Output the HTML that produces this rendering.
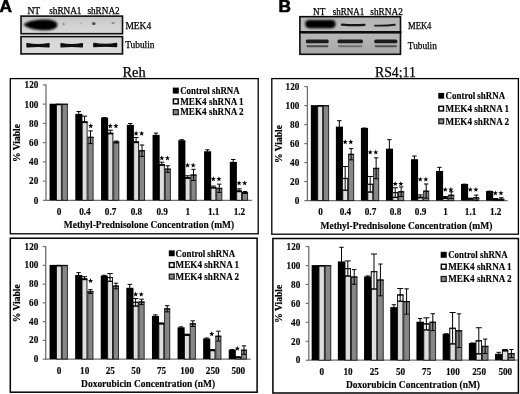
<!DOCTYPE html>
<html><head><meta charset="utf-8"><title>Figure</title>
<style>
html,body{margin:0;padding:0;background:#fff;width:520px;height:394px;overflow:hidden;font-family:"Liberation Serif",serif;}
</style></head><body>
<svg width="520" height="394" viewBox="0 0 520 394" style="position:absolute;left:0;top:0;display:block">
<defs>
<filter id="b1" x="-20%" y="-50%" width="140%" height="200%"><feGaussianBlur stdDeviation="0.9"/></filter>
<filter id="b2" x="-20%" y="-80%" width="140%" height="260%"><feGaussianBlur stdDeviation="0.6"/></filter>
<filter id="b3" x="-50%" y="-50%" width="200%" height="200%"><feGaussianBlur stdDeviation="1.1"/></filter>
<filter id="bu" filterUnits="userSpaceOnUse" x="0" y="0" width="520" height="70"><feGaussianBlur stdDeviation="0.7"/></filter>
<filter id="soft" x="-2%" y="-2%" width="104%" height="104%"><feGaussianBlur stdDeviation="0.35"/></filter>
<linearGradient id="gA1" x1="0" y1="0" x2="0" y2="1"><stop offset="0" stop-color="#c4c4c4"/><stop offset="0.5" stop-color="#d2d2d2"/><stop offset="1" stop-color="#d8d8d8"/></linearGradient>
<linearGradient id="gA2" x1="0" y1="0" x2="0" y2="1"><stop offset="0" stop-color="#d4d4d4"/><stop offset="1" stop-color="#dcdcdc"/></linearGradient>
<linearGradient id="gB1" x1="0" y1="0" x2="0" y2="1"><stop offset="0" stop-color="#b4b4b4"/><stop offset="1" stop-color="#bcbcbc"/></linearGradient>
<linearGradient id="gB2" x1="0" y1="0" x2="0" y2="1"><stop offset="0" stop-color="#b8b8b8"/><stop offset="1" stop-color="#a8a8a8"/></linearGradient>
</defs>
<rect width="520" height="394" fill="#fff"/>
<g filter="url(#soft)">
<text x="-0.5" y="11.9" font-family="Liberation Sans, sans-serif" font-size="17.3" font-weight="bold" fill="#000" stroke="#000" stroke-width="0.6">A</text>
<text x="278.4" y="11.9" font-family="Liberation Sans, sans-serif" font-size="17.3" font-weight="bold" fill="#000" stroke="#000" stroke-width="0.6">B</text>
<rect x="21.0" y="16.1" width="101.50" height="17.60" fill="url(#gA1)" stroke="#0a0a0a" stroke-width="1.6"/>
<rect x="21.0" y="36.6" width="101.50" height="17.30" fill="url(#gA2)" stroke="#0a0a0a" stroke-width="1.6"/>
<path d="M23.6 24.8 C26.6 21.5 36 19.6 45.5 19.6 C53 19.6 57.4 21.9 57.4 25.0 C57.4 28.3 52.6 30.3 44.5 30.3 C35 30.3 27.2 28.1 23.6 24.8 Z" fill="#050505" filter="url(#b1)"/>
<ellipse cx="63.6" cy="24.2" rx="1.3" ry="1.1" fill="#969696" filter="url(#bu)"/>
<ellipse cx="81" cy="23.6" rx="1.3" ry="1.0" fill="#b2b2b2" filter="url(#bu)"/>
<ellipse cx="93.8" cy="23.7" rx="1.8" ry="1.4" fill="#484848" filter="url(#bu)"/>
<ellipse cx="113.1" cy="23.0" rx="1.7" ry="1.1" fill="#8a8a8a" filter="url(#bu)"/>
<path d="M27.0 43.6 Q38.0 45.5 49.0 43.6 L49.0 46.800000000000004 Q38.0 46.0 27.0 46.800000000000004 Z" fill="#0c0c0c" stroke="#0c0c0c" stroke-width="1.3" stroke-linejoin="round" filter="url(#b2)"/>
<path d="M61.0 43.6 Q71.7 45.5 82.4 43.6 L82.4 46.800000000000004 Q71.7 46.0 61.0 46.800000000000004 Z" fill="#0c0c0c" stroke="#0c0c0c" stroke-width="1.3" stroke-linejoin="round" filter="url(#b2)"/>
<path d="M93.8 43.4 Q105.19999999999999 45.3 116.6 43.4 L116.6 46.6 Q105.19999999999999 45.8 93.8 46.6 Z" fill="#0c0c0c" stroke="#0c0c0c" stroke-width="1.3" stroke-linejoin="round" filter="url(#b2)"/>
<text x="27.40" y="14.30" font-family="Liberation Serif, serif" font-size="9.6" textLength="12.90" lengthAdjust="spacingAndGlyphs" stroke="#000" stroke-width="0.25" fill="#000" >NT</text>
<text x="49.20" y="14.30" font-family="Liberation Serif, serif" font-size="9.6" textLength="32.30" lengthAdjust="spacingAndGlyphs" stroke="#000" stroke-width="0.25" fill="#000" >shRNA1</text>
<text x="87.40" y="14.30" font-family="Liberation Serif, serif" font-size="9.6" textLength="32.30" lengthAdjust="spacingAndGlyphs" stroke="#000" stroke-width="0.25" fill="#000" >shRNA2</text>
<text x="125.40" y="28.90" font-family="Liberation Serif, serif" font-size="9.8" textLength="25.80" lengthAdjust="spacingAndGlyphs" stroke="#000" stroke-width="0.25" fill="#000" >MEK4</text>
<text x="125.20" y="48.00" font-family="Liberation Serif, serif" font-size="9.8" textLength="29.20" lengthAdjust="spacingAndGlyphs" stroke="#000" stroke-width="0.25" fill="#000" >Tubulin</text>
<rect x="299.9" y="16.7" width="100.60" height="15.20" fill="url(#gB1)" stroke="#0a0a0a" stroke-width="1.6"/>
<rect x="299.9" y="32.6" width="100.60" height="21.70" fill="url(#gB2)" stroke="#0a0a0a" stroke-width="1.6"/>
<line x1="299.1" y1="32.1" x2="401.3" y2="32.1" stroke="#0a0a0a" stroke-width="2.3"/>
<rect x="305.2" y="20.0" width="30.4" height="8.2" rx="4.1" fill="#020202" filter="url(#b1)"/>
<path d="M342 24.6 Q353 25.6 364.4 24.9" stroke="#161616" stroke-width="2.3" fill="none" stroke-linecap="round" filter="url(#bu)"/>
<path d="M375 25.6 Q385 25.9 394.8 24.8" stroke="#1c1c1c" stroke-width="1.9" fill="none" stroke-linecap="round" filter="url(#bu)"/>
<rect x="305.8" y="39.55" width="23.0" height="3.7" rx="1.6" fill="#1e1e1e" filter="url(#bu)"/>
<rect x="306.3" y="45.199999999999996" width="22.0" height="2.0" rx="1.0" fill="#4a4a4a" filter="url(#bu)"/>
<rect x="337.5" y="39.55" width="25.5" height="3.7" rx="1.6" fill="#1e1e1e" filter="url(#bu)"/>
<rect x="338.0" y="45.199999999999996" width="24.5" height="2.0" rx="1.0" fill="#707070" filter="url(#bu)"/>
<rect x="374.2" y="39.55" width="23.19999999999999" height="3.7" rx="1.6" fill="#1e1e1e" filter="url(#bu)"/>
<rect x="374.7" y="45.199999999999996" width="22.19999999999999" height="2.0" rx="1.0" fill="#505050" filter="url(#bu)"/>
<text x="313.00" y="14.60" font-family="Liberation Serif, serif" font-size="9.6" textLength="12.30" lengthAdjust="spacingAndGlyphs" stroke="#000" stroke-width="0.25" fill="#000" >NT</text>
<text x="332.80" y="14.60" font-family="Liberation Serif, serif" font-size="9.6" textLength="31.40" lengthAdjust="spacingAndGlyphs" stroke="#000" stroke-width="0.25" fill="#000" >shRNA1</text>
<text x="370.30" y="14.60" font-family="Liberation Serif, serif" font-size="9.6" textLength="32.50" lengthAdjust="spacingAndGlyphs" stroke="#000" stroke-width="0.25" fill="#000" >shRNA2</text>
<text x="408.00" y="28.80" font-family="Liberation Serif, serif" font-size="9.8" textLength="23.40" lengthAdjust="spacingAndGlyphs" stroke="#000" stroke-width="0.25" fill="#000" >MEK4</text>
<text x="407.80" y="48.70" font-family="Liberation Serif, serif" font-size="9.8" textLength="29.00" lengthAdjust="spacingAndGlyphs" stroke="#000" stroke-width="0.25" fill="#000" >Tubulin</text>
<text x="122.40" y="76.50" font-family="Liberation Serif, serif" font-size="14.4" textLength="23.20" lengthAdjust="spacingAndGlyphs" stroke="#000" stroke-width="0.25" fill="#000" >Reh</text>
<text x="375.00" y="77.00" font-family="Liberation Serif, serif" font-size="14.4" textLength="40.80" lengthAdjust="spacingAndGlyphs" stroke="#000" stroke-width="0.25" fill="#000" >RS4;11</text>
<rect x="10.3" y="78.6" width="247.90" height="155.20" fill="none" stroke="#000" stroke-width="1.3"/>
<rect x="10.3" y="238.2" width="246.80" height="154.00" fill="none" stroke="#000" stroke-width="1.5"/>
<rect x="271.8" y="78.6" width="246.60" height="155.60" fill="none" stroke="#000" stroke-width="1.3"/>
<rect x="272.9" y="238.5" width="245.50" height="154.50" fill="none" stroke="#000" stroke-width="1.5"/>
<line x1="46.0" y1="84.62" x2="46.0" y2="200.80" stroke="#707070" stroke-width="1.3"/>
<line x1="45.5" y1="200.3" x2="252.0" y2="200.3" stroke="#707070" stroke-width="1.3"/>
<line x1="42.9" y1="200.30" x2="46.0" y2="200.30" stroke="#707070" stroke-width="1.15"/>
<text x="38.30" y="203.70" font-family="Liberation Serif, serif" font-size="9.6" font-weight="bold" text-anchor="end" textLength="4.60" lengthAdjust="spacingAndGlyphs" stroke="#000" stroke-width="0.14" fill="#000" >0</text>
<line x1="42.9" y1="181.07" x2="46.0" y2="181.07" stroke="#707070" stroke-width="1.15"/>
<text x="38.30" y="184.47" font-family="Liberation Serif, serif" font-size="9.6" font-weight="bold" text-anchor="end" textLength="9.20" lengthAdjust="spacingAndGlyphs" stroke="#000" stroke-width="0.14" fill="#000" >20</text>
<line x1="42.9" y1="161.84" x2="46.0" y2="161.84" stroke="#707070" stroke-width="1.15"/>
<text x="38.30" y="165.24" font-family="Liberation Serif, serif" font-size="9.6" font-weight="bold" text-anchor="end" textLength="9.20" lengthAdjust="spacingAndGlyphs" stroke="#000" stroke-width="0.14" fill="#000" >40</text>
<line x1="42.9" y1="142.61" x2="46.0" y2="142.61" stroke="#707070" stroke-width="1.15"/>
<text x="38.30" y="146.01" font-family="Liberation Serif, serif" font-size="9.6" font-weight="bold" text-anchor="end" textLength="9.20" lengthAdjust="spacingAndGlyphs" stroke="#000" stroke-width="0.14" fill="#000" >60</text>
<line x1="42.9" y1="123.38" x2="46.0" y2="123.38" stroke="#707070" stroke-width="1.15"/>
<text x="38.30" y="126.78" font-family="Liberation Serif, serif" font-size="9.6" font-weight="bold" text-anchor="end" textLength="9.20" lengthAdjust="spacingAndGlyphs" stroke="#000" stroke-width="0.14" fill="#000" >80</text>
<line x1="42.9" y1="104.15" x2="46.0" y2="104.15" stroke="#707070" stroke-width="1.15"/>
<text x="38.30" y="107.55" font-family="Liberation Serif, serif" font-size="9.6" font-weight="bold" text-anchor="end" textLength="13.70" lengthAdjust="spacingAndGlyphs" stroke="#000" stroke-width="0.14" fill="#000" >100</text>
<line x1="42.9" y1="84.92" x2="46.0" y2="84.92" stroke="#707070" stroke-width="1.15"/>
<text x="38.30" y="88.32" font-family="Liberation Serif, serif" font-size="9.6" font-weight="bold" text-anchor="end" textLength="13.70" lengthAdjust="spacingAndGlyphs" stroke="#000" stroke-width="0.14" fill="#000" >120</text>
<text transform="translate(19.9,143.01) rotate(-90)" text-anchor="middle" font-family="Liberation Serif, serif" font-size="9.4" font-weight="bold" stroke="#000" stroke-width="0.2" textLength="38" lengthAdjust="spacingAndGlyphs">% Viable</text>
<rect x="49.55" y="103.70" width="7.10" height="96.60" fill="#000"/>
<rect x="56.45" y="104.15" width="4.90" height="96.15" fill="#dedede" stroke="#111" stroke-width="0.9"/>
<line x1="56.05" y1="104.50" x2="61.80" y2="104.50" stroke="#000" stroke-width="1.6"/>
<rect x="62.20" y="104.15" width="5.15" height="96.15" fill="#878787" stroke="#1c1c1c" stroke-width="0.9"/>
<line x1="61.80" y1="104.35" x2="67.75" y2="104.35" stroke="#111" stroke-width="1.2"/>
<rect x="75.30" y="113.89" width="7.10" height="86.41" fill="#000"/>
<rect x="82.20" y="121.94" width="4.90" height="78.36" fill="#dedede" stroke="#111" stroke-width="0.9"/>
<line x1="81.80" y1="122.29" x2="87.55" y2="122.29" stroke="#000" stroke-width="1.6"/>
<rect x="87.95" y="137.23" width="5.15" height="63.07" fill="#878787" stroke="#1c1c1c" stroke-width="0.9"/>
<line x1="87.55" y1="137.43" x2="93.50" y2="137.43" stroke="#111" stroke-width="1.2"/>
<line x1="78.72" y1="111.55" x2="78.72" y2="114.34" stroke="#000" stroke-width="1.0"/>
<line x1="76.52" y1="111.55" x2="80.92" y2="111.55" stroke="#000" stroke-width="1.0"/>
<line x1="84.58" y1="116.17" x2="84.58" y2="121.94" stroke="#000" stroke-width="1.0"/>
<line x1="82.00" y1="116.17" x2="87.15" y2="116.17" stroke="#000" stroke-width="1.0"/>
<line x1="82.00" y1="121.94" x2="87.15" y2="121.94" stroke="#000" stroke-width="1.0"/>
<line x1="90.53" y1="130.88" x2="90.53" y2="143.57" stroke="#000" stroke-width="1.0"/>
<line x1="88.33" y1="130.88" x2="92.73" y2="130.88" stroke="#000" stroke-width="1.0"/>
<line x1="88.33" y1="143.57" x2="92.73" y2="143.57" stroke="#000" stroke-width="1.0"/>
<rect x="101.05" y="117.64" width="7.10" height="82.66" fill="#000"/>
<rect x="107.95" y="133.28" width="4.90" height="67.02" fill="#dedede" stroke="#111" stroke-width="0.9"/>
<line x1="107.55" y1="133.63" x2="113.30" y2="133.63" stroke="#000" stroke-width="1.6"/>
<rect x="113.70" y="142.03" width="5.15" height="58.27" fill="#878787" stroke="#1c1c1c" stroke-width="0.9"/>
<line x1="113.30" y1="142.23" x2="119.25" y2="142.23" stroke="#111" stroke-width="1.2"/>
<line x1="104.47" y1="117.51" x2="104.47" y2="118.09" stroke="#000" stroke-width="1.0"/>
<line x1="102.27" y1="117.51" x2="106.67" y2="117.51" stroke="#000" stroke-width="1.0"/>
<line x1="110.33" y1="130.21" x2="110.33" y2="133.28" stroke="#000" stroke-width="1.0"/>
<line x1="107.75" y1="130.21" x2="112.90" y2="130.21" stroke="#000" stroke-width="1.0"/>
<line x1="107.75" y1="133.28" x2="112.90" y2="133.28" stroke="#000" stroke-width="1.0"/>
<line x1="116.28" y1="141.07" x2="116.28" y2="142.99" stroke="#000" stroke-width="1.0"/>
<line x1="114.08" y1="141.07" x2="118.48" y2="141.07" stroke="#000" stroke-width="1.0"/>
<line x1="114.08" y1="142.99" x2="118.48" y2="142.99" stroke="#000" stroke-width="1.0"/>
<rect x="126.80" y="124.85" width="7.10" height="75.45" fill="#000"/>
<rect x="133.70" y="142.03" width="4.90" height="58.27" fill="#dedede" stroke="#111" stroke-width="0.9"/>
<line x1="133.30" y1="142.38" x2="139.05" y2="142.38" stroke="#000" stroke-width="1.6"/>
<rect x="139.45" y="150.69" width="5.15" height="49.61" fill="#878787" stroke="#1c1c1c" stroke-width="0.9"/>
<line x1="139.05" y1="150.89" x2="145.00" y2="150.89" stroke="#111" stroke-width="1.2"/>
<line x1="130.22" y1="123.48" x2="130.22" y2="125.30" stroke="#000" stroke-width="1.0"/>
<line x1="128.03" y1="123.48" x2="132.42" y2="123.48" stroke="#000" stroke-width="1.0"/>
<line x1="136.07" y1="137.51" x2="136.07" y2="142.03" stroke="#000" stroke-width="1.0"/>
<line x1="133.50" y1="137.51" x2="138.65" y2="137.51" stroke="#000" stroke-width="1.0"/>
<line x1="133.50" y1="142.03" x2="138.65" y2="142.03" stroke="#000" stroke-width="1.0"/>
<line x1="142.03" y1="145.01" x2="142.03" y2="156.36" stroke="#000" stroke-width="1.0"/>
<line x1="139.83" y1="145.01" x2="144.22" y2="145.01" stroke="#000" stroke-width="1.0"/>
<line x1="139.83" y1="156.36" x2="144.22" y2="156.36" stroke="#000" stroke-width="1.0"/>
<rect x="152.55" y="134.85" width="7.10" height="65.45" fill="#000"/>
<rect x="159.45" y="164.72" width="4.90" height="35.58" fill="#dedede" stroke="#111" stroke-width="0.9"/>
<line x1="159.05" y1="165.07" x2="164.80" y2="165.07" stroke="#000" stroke-width="1.6"/>
<rect x="165.20" y="169.05" width="5.15" height="31.25" fill="#878787" stroke="#1c1c1c" stroke-width="0.9"/>
<line x1="164.80" y1="169.25" x2="170.75" y2="169.25" stroke="#111" stroke-width="1.2"/>
<line x1="155.97" y1="133.09" x2="155.97" y2="135.30" stroke="#000" stroke-width="1.0"/>
<line x1="153.78" y1="133.09" x2="158.17" y2="133.09" stroke="#000" stroke-width="1.0"/>
<line x1="161.82" y1="162.22" x2="161.82" y2="164.72" stroke="#000" stroke-width="1.0"/>
<line x1="159.25" y1="162.22" x2="164.40" y2="162.22" stroke="#000" stroke-width="1.0"/>
<line x1="159.25" y1="164.72" x2="164.40" y2="164.72" stroke="#000" stroke-width="1.0"/>
<line x1="167.78" y1="165.78" x2="167.78" y2="172.32" stroke="#000" stroke-width="1.0"/>
<line x1="165.58" y1="165.78" x2="169.97" y2="165.78" stroke="#000" stroke-width="1.0"/>
<line x1="165.58" y1="172.32" x2="169.97" y2="172.32" stroke="#000" stroke-width="1.0"/>
<rect x="178.30" y="140.24" width="7.10" height="60.06" fill="#000"/>
<rect x="185.20" y="177.70" width="4.90" height="22.60" fill="#dedede" stroke="#111" stroke-width="0.9"/>
<line x1="184.80" y1="178.05" x2="190.55" y2="178.05" stroke="#000" stroke-width="1.6"/>
<rect x="190.95" y="174.92" width="5.15" height="25.38" fill="#878787" stroke="#1c1c1c" stroke-width="0.9"/>
<line x1="190.55" y1="175.12" x2="196.50" y2="175.12" stroke="#111" stroke-width="1.2"/>
<line x1="181.72" y1="139.73" x2="181.72" y2="140.69" stroke="#000" stroke-width="1.0"/>
<line x1="179.53" y1="139.73" x2="183.92" y2="139.73" stroke="#000" stroke-width="1.0"/>
<line x1="187.57" y1="175.78" x2="187.57" y2="177.70" stroke="#000" stroke-width="1.0"/>
<line x1="185.00" y1="175.78" x2="190.15" y2="175.78" stroke="#000" stroke-width="1.0"/>
<line x1="185.00" y1="177.70" x2="190.15" y2="177.70" stroke="#000" stroke-width="1.0"/>
<line x1="193.53" y1="169.34" x2="193.53" y2="180.49" stroke="#000" stroke-width="1.0"/>
<line x1="191.33" y1="169.34" x2="195.72" y2="169.34" stroke="#000" stroke-width="1.0"/>
<line x1="191.33" y1="180.49" x2="195.72" y2="180.49" stroke="#000" stroke-width="1.0"/>
<rect x="204.05" y="151.29" width="7.10" height="49.01" fill="#000"/>
<rect x="210.95" y="187.51" width="4.90" height="12.79" fill="#dedede" stroke="#111" stroke-width="0.9"/>
<line x1="210.55" y1="187.86" x2="216.30" y2="187.86" stroke="#000" stroke-width="1.6"/>
<rect x="216.70" y="188.28" width="5.15" height="12.02" fill="#878787" stroke="#1c1c1c" stroke-width="0.9"/>
<line x1="216.30" y1="188.48" x2="222.25" y2="188.48" stroke="#111" stroke-width="1.2"/>
<line x1="207.47" y1="149.82" x2="207.47" y2="151.74" stroke="#000" stroke-width="1.0"/>
<line x1="205.28" y1="149.82" x2="209.67" y2="149.82" stroke="#000" stroke-width="1.0"/>
<line x1="213.32" y1="186.07" x2="213.32" y2="187.51" stroke="#000" stroke-width="1.0"/>
<line x1="210.75" y1="186.07" x2="215.90" y2="186.07" stroke="#000" stroke-width="1.0"/>
<line x1="210.75" y1="187.51" x2="215.90" y2="187.51" stroke="#000" stroke-width="1.0"/>
<line x1="219.28" y1="184.15" x2="219.28" y2="192.42" stroke="#000" stroke-width="1.0"/>
<line x1="217.08" y1="184.15" x2="221.47" y2="184.15" stroke="#000" stroke-width="1.0"/>
<line x1="217.08" y1="192.42" x2="221.47" y2="192.42" stroke="#000" stroke-width="1.0"/>
<rect x="229.80" y="161.87" width="7.10" height="38.43" fill="#000"/>
<rect x="236.70" y="191.07" width="4.90" height="9.23" fill="#dedede" stroke="#111" stroke-width="0.9"/>
<line x1="236.30" y1="191.42" x2="242.05" y2="191.42" stroke="#000" stroke-width="1.6"/>
<rect x="242.45" y="192.51" width="5.15" height="7.79" fill="#878787" stroke="#1c1c1c" stroke-width="0.9"/>
<line x1="242.05" y1="192.71" x2="248.00" y2="192.71" stroke="#111" stroke-width="1.2"/>
<line x1="233.22" y1="159.53" x2="233.22" y2="162.32" stroke="#000" stroke-width="1.0"/>
<line x1="231.03" y1="159.53" x2="235.42" y2="159.53" stroke="#000" stroke-width="1.0"/>
<line x1="239.07" y1="188.86" x2="239.07" y2="191.07" stroke="#000" stroke-width="1.0"/>
<line x1="236.50" y1="188.86" x2="241.65" y2="188.86" stroke="#000" stroke-width="1.0"/>
<line x1="236.50" y1="191.07" x2="241.65" y2="191.07" stroke="#000" stroke-width="1.0"/>
<line x1="245.03" y1="191.55" x2="245.03" y2="193.47" stroke="#000" stroke-width="1.0"/>
<line x1="242.83" y1="191.55" x2="247.22" y2="191.55" stroke="#000" stroke-width="1.0"/>
<line x1="242.83" y1="193.47" x2="247.22" y2="193.47" stroke="#000" stroke-width="1.0"/>
<text x="59.12" y="214.80" font-family="Liberation Serif, serif" font-size="9.6" font-weight="bold" text-anchor="middle" textLength="4.60" lengthAdjust="spacingAndGlyphs" stroke="#000" stroke-width="0.14" fill="#000" >0</text>
<text x="84.88" y="214.80" font-family="Liberation Serif, serif" font-size="9.6" font-weight="bold" text-anchor="middle" textLength="11.50" lengthAdjust="spacingAndGlyphs" stroke="#000" stroke-width="0.14" fill="#000" >0.4</text>
<text x="110.62" y="214.80" font-family="Liberation Serif, serif" font-size="9.6" font-weight="bold" text-anchor="middle" textLength="11.50" lengthAdjust="spacingAndGlyphs" stroke="#000" stroke-width="0.14" fill="#000" >0.7</text>
<text x="136.38" y="214.80" font-family="Liberation Serif, serif" font-size="9.6" font-weight="bold" text-anchor="middle" textLength="11.50" lengthAdjust="spacingAndGlyphs" stroke="#000" stroke-width="0.14" fill="#000" >0.8</text>
<text x="162.13" y="214.80" font-family="Liberation Serif, serif" font-size="9.6" font-weight="bold" text-anchor="middle" textLength="11.50" lengthAdjust="spacingAndGlyphs" stroke="#000" stroke-width="0.14" fill="#000" >0.9</text>
<text x="187.88" y="214.80" font-family="Liberation Serif, serif" font-size="9.6" font-weight="bold" text-anchor="middle" textLength="4.60" lengthAdjust="spacingAndGlyphs" stroke="#000" stroke-width="0.14" fill="#000" >1</text>
<text x="213.63" y="214.80" font-family="Liberation Serif, serif" font-size="9.6" font-weight="bold" text-anchor="middle" textLength="11.50" lengthAdjust="spacingAndGlyphs" stroke="#000" stroke-width="0.14" fill="#000" >1.1</text>
<text x="239.38" y="214.80" font-family="Liberation Serif, serif" font-size="9.6" font-weight="bold" text-anchor="middle" textLength="11.50" lengthAdjust="spacingAndGlyphs" stroke="#000" stroke-width="0.14" fill="#000" >1.2</text>
<text x="149.00" y="227.80" font-family="Liberation Serif, serif" font-size="9.5" font-weight="bold" text-anchor="middle" textLength="170.30" lengthAdjust="spacingAndGlyphs" stroke="#000" stroke-width="0.14" fill="#000" >Methyl-Prednisolone Concentration (mM)</text>
<rect x="172.8" y="87.60" width="6.0" height="6.0" fill="#000"/>
<text x="180.20" y="93.80" font-family="Liberation Serif, serif" font-size="9.5" font-weight="bold" textLength="59.50" lengthAdjust="spacingAndGlyphs" stroke="#000" stroke-width="0.14" fill="#000" >Control shRNA</text>
<rect x="173.4" y="99.00" width="4.8" height="4.8" fill="#f4f4f4" stroke="#000" stroke-width="1.45"/>
<text x="180.20" y="104.60" font-family="Liberation Serif, serif" font-size="9.5" font-weight="bold" textLength="63.50" lengthAdjust="spacingAndGlyphs" stroke="#000" stroke-width="0.14" fill="#000" >MEK4 shRNA 1</text>
<rect x="173.3" y="109.60" width="5.0" height="5.0" fill="#878787" stroke="#1a1a1a" stroke-width="1.25"/>
<text x="180.20" y="115.30" font-family="Liberation Serif, serif" font-size="9.5" font-weight="bold" textLength="63.50" lengthAdjust="spacingAndGlyphs" stroke="#000" stroke-width="0.14" fill="#000" >MEK4 shRNA 2</text>
<polygon points="90.73,123.30 91.39,125.08 93.29,125.17 91.80,126.35 92.31,128.18 90.73,127.13 89.14,128.18 89.65,126.35 88.16,125.17 90.06,125.08" fill="#000"/>
<polygon points="110.33,123.30 110.99,125.08 112.89,125.17 111.40,126.35 111.91,128.18 110.33,127.13 108.74,128.18 109.25,126.35 107.76,125.17 109.66,125.08" fill="#000"/>
<polygon points="115.92,123.30 116.59,125.08 118.49,125.17 117.00,126.35 117.51,128.18 115.92,127.13 114.34,128.18 114.85,126.35 113.36,125.17 115.26,125.08" fill="#000"/>
<polygon points="136.08,130.80 136.74,132.58 138.64,132.67 137.15,133.85 137.66,135.68 136.08,134.63 134.49,135.68 135.00,133.85 133.51,132.67 135.41,132.58" fill="#000"/>
<polygon points="141.68,130.80 142.34,132.58 144.24,132.67 142.75,133.85 143.26,135.68 141.68,134.63 140.09,135.68 140.60,133.85 139.11,132.67 141.01,132.58" fill="#000"/>
<polygon points="161.83,155.50 162.49,157.28 164.39,157.37 162.90,158.55 163.41,160.38 161.83,159.33 160.24,160.38 160.75,158.55 159.26,157.37 161.16,157.28" fill="#000"/>
<polygon points="167.43,155.50 168.09,157.28 169.99,157.37 168.50,158.55 169.01,160.38 167.43,159.33 165.84,160.38 166.35,158.55 164.86,157.37 166.76,157.28" fill="#000"/>
<polygon points="187.58,162.60 188.24,164.38 190.14,164.47 188.65,165.65 189.16,167.48 187.58,166.43 185.99,167.48 186.50,165.65 185.01,164.47 186.91,164.38" fill="#000"/>
<polygon points="193.18,162.60 193.84,164.38 195.74,164.47 194.25,165.65 194.76,167.48 193.18,166.43 191.59,167.48 192.10,165.65 190.61,164.47 192.51,164.38" fill="#000"/>
<polygon points="213.33,176.30 213.99,178.08 215.89,178.17 214.40,179.35 214.91,181.18 213.33,180.13 211.74,181.18 212.25,179.35 210.76,178.17 212.66,178.08" fill="#000"/>
<polygon points="218.93,176.30 219.59,178.08 221.49,178.17 220.00,179.35 220.51,181.18 218.93,180.13 217.34,181.18 217.85,179.35 216.36,178.17 218.26,178.08" fill="#000"/>
<polygon points="239.08,180.50 239.74,182.28 241.64,182.37 240.15,183.55 240.66,185.38 239.08,184.33 237.49,185.38 238.00,183.55 236.51,182.37 238.41,182.28" fill="#000"/>
<polygon points="244.68,180.50 245.34,182.28 247.24,182.37 245.75,183.55 246.26,185.38 244.68,184.33 243.09,185.38 243.60,183.55 242.11,182.37 244.01,182.28" fill="#000"/>
<line x1="45.7" y1="246.30" x2="45.7" y2="359.60" stroke="#707070" stroke-width="1.3"/>
<line x1="45.2" y1="359.1" x2="250.5" y2="359.1" stroke="#707070" stroke-width="1.3"/>
<line x1="42.6" y1="359.10" x2="45.7" y2="359.10" stroke="#707070" stroke-width="1.15"/>
<text x="38.30" y="362.05" font-family="Liberation Serif, serif" font-size="9.6" font-weight="bold" text-anchor="end" textLength="4.60" lengthAdjust="spacingAndGlyphs" stroke="#000" stroke-width="0.14" fill="#000" >0</text>
<line x1="42.6" y1="340.35" x2="45.7" y2="340.35" stroke="#707070" stroke-width="1.15"/>
<text x="38.30" y="343.30" font-family="Liberation Serif, serif" font-size="9.6" font-weight="bold" text-anchor="end" textLength="9.20" lengthAdjust="spacingAndGlyphs" stroke="#000" stroke-width="0.14" fill="#000" >20</text>
<line x1="42.6" y1="321.60" x2="45.7" y2="321.60" stroke="#707070" stroke-width="1.15"/>
<text x="38.30" y="324.55" font-family="Liberation Serif, serif" font-size="9.6" font-weight="bold" text-anchor="end" textLength="9.20" lengthAdjust="spacingAndGlyphs" stroke="#000" stroke-width="0.14" fill="#000" >40</text>
<line x1="42.6" y1="302.85" x2="45.7" y2="302.85" stroke="#707070" stroke-width="1.15"/>
<text x="38.30" y="305.80" font-family="Liberation Serif, serif" font-size="9.6" font-weight="bold" text-anchor="end" textLength="9.20" lengthAdjust="spacingAndGlyphs" stroke="#000" stroke-width="0.14" fill="#000" >60</text>
<line x1="42.6" y1="284.10" x2="45.7" y2="284.10" stroke="#707070" stroke-width="1.15"/>
<text x="38.30" y="287.05" font-family="Liberation Serif, serif" font-size="9.6" font-weight="bold" text-anchor="end" textLength="9.20" lengthAdjust="spacingAndGlyphs" stroke="#000" stroke-width="0.14" fill="#000" >80</text>
<line x1="42.6" y1="265.35" x2="45.7" y2="265.35" stroke="#707070" stroke-width="1.15"/>
<text x="38.30" y="268.30" font-family="Liberation Serif, serif" font-size="9.6" font-weight="bold" text-anchor="end" textLength="13.70" lengthAdjust="spacingAndGlyphs" stroke="#000" stroke-width="0.14" fill="#000" >100</text>
<line x1="42.6" y1="246.60" x2="45.7" y2="246.60" stroke="#707070" stroke-width="1.15"/>
<text x="38.30" y="249.55" font-family="Liberation Serif, serif" font-size="9.6" font-weight="bold" text-anchor="end" textLength="13.70" lengthAdjust="spacingAndGlyphs" stroke="#000" stroke-width="0.14" fill="#000" >120</text>
<text transform="translate(19.9,303.25) rotate(-90)" text-anchor="middle" font-family="Liberation Serif, serif" font-size="9.4" font-weight="bold" stroke="#000" stroke-width="0.2" textLength="38" lengthAdjust="spacingAndGlyphs">% Viable</text>
<rect x="49.55" y="264.90" width="7.10" height="94.20" fill="#000"/>
<rect x="56.45" y="265.35" width="4.90" height="93.75" fill="#dedede" stroke="#111" stroke-width="0.9"/>
<line x1="56.05" y1="265.70" x2="61.80" y2="265.70" stroke="#000" stroke-width="1.6"/>
<rect x="62.20" y="265.35" width="5.15" height="93.75" fill="#878787" stroke="#1c1c1c" stroke-width="0.9"/>
<line x1="61.80" y1="265.55" x2="67.75" y2="265.55" stroke="#111" stroke-width="1.2"/>
<rect x="75.15" y="275.03" width="7.10" height="84.08" fill="#000"/>
<rect x="82.05" y="279.04" width="4.90" height="80.06" fill="#dedede" stroke="#111" stroke-width="0.9"/>
<line x1="81.65" y1="279.39" x2="87.40" y2="279.39" stroke="#000" stroke-width="1.6"/>
<rect x="87.80" y="291.60" width="5.15" height="67.50" fill="#878787" stroke="#1c1c1c" stroke-width="0.9"/>
<line x1="87.40" y1="291.80" x2="93.35" y2="291.80" stroke="#111" stroke-width="1.2"/>
<line x1="78.57" y1="272.66" x2="78.57" y2="275.48" stroke="#000" stroke-width="1.0"/>
<line x1="76.37" y1="272.66" x2="80.77" y2="272.66" stroke="#000" stroke-width="1.0"/>
<line x1="84.42" y1="276.69" x2="84.42" y2="279.04" stroke="#000" stroke-width="1.0"/>
<line x1="81.85" y1="276.69" x2="87.00" y2="276.69" stroke="#000" stroke-width="1.0"/>
<line x1="81.85" y1="279.04" x2="87.00" y2="279.04" stroke="#000" stroke-width="1.0"/>
<line x1="90.38" y1="289.73" x2="90.38" y2="293.48" stroke="#000" stroke-width="1.0"/>
<line x1="88.17" y1="289.73" x2="92.58" y2="289.73" stroke="#000" stroke-width="1.0"/>
<line x1="88.17" y1="293.48" x2="92.58" y2="293.48" stroke="#000" stroke-width="1.0"/>
<rect x="100.75" y="275.59" width="7.10" height="83.51" fill="#000"/>
<rect x="107.65" y="277.44" width="4.90" height="81.66" fill="#dedede" stroke="#111" stroke-width="0.9"/>
<line x1="107.25" y1="277.79" x2="113.00" y2="277.79" stroke="#000" stroke-width="1.6"/>
<rect x="113.40" y="285.98" width="5.15" height="73.12" fill="#878787" stroke="#1c1c1c" stroke-width="0.9"/>
<line x1="113.00" y1="286.18" x2="118.95" y2="286.18" stroke="#111" stroke-width="1.2"/>
<line x1="104.17" y1="275.29" x2="104.17" y2="276.04" stroke="#000" stroke-width="1.0"/>
<line x1="101.97" y1="275.29" x2="106.37" y2="275.29" stroke="#000" stroke-width="1.0"/>
<rect x="107.50" y="277.74" width="5.05" height="3.54" fill="#fafafa" stroke="#111" stroke-width="0.9"/>
<line x1="110.02" y1="273.60" x2="110.02" y2="281.29" stroke="#000" stroke-width="1.0"/>
<line x1="107.25" y1="273.60" x2="112.80" y2="273.60" stroke="#000" stroke-width="1.0"/>
<line x1="107.25" y1="281.29" x2="112.80" y2="281.29" stroke="#000" stroke-width="1.0"/>
<line x1="115.97" y1="283.16" x2="115.97" y2="288.79" stroke="#000" stroke-width="1.0"/>
<line x1="113.77" y1="283.16" x2="118.17" y2="283.16" stroke="#000" stroke-width="1.0"/>
<line x1="113.77" y1="288.79" x2="118.17" y2="288.79" stroke="#000" stroke-width="1.0"/>
<rect x="126.35" y="287.78" width="7.10" height="71.33" fill="#000"/>
<rect x="133.25" y="302.29" width="4.90" height="56.81" fill="#dedede" stroke="#111" stroke-width="0.9"/>
<line x1="132.85" y1="302.64" x2="138.60" y2="302.64" stroke="#000" stroke-width="1.6"/>
<rect x="139.00" y="301.91" width="5.15" height="57.19" fill="#878787" stroke="#1c1c1c" stroke-width="0.9"/>
<line x1="138.60" y1="302.11" x2="144.55" y2="302.11" stroke="#111" stroke-width="1.2"/>
<line x1="129.78" y1="284.38" x2="129.78" y2="288.23" stroke="#000" stroke-width="1.0"/>
<line x1="127.58" y1="284.38" x2="131.97" y2="284.38" stroke="#000" stroke-width="1.0"/>
<rect x="133.10" y="302.59" width="5.05" height="3.45" fill="#fafafa" stroke="#111" stroke-width="0.9"/>
<line x1="135.62" y1="298.54" x2="135.62" y2="306.04" stroke="#000" stroke-width="1.0"/>
<line x1="132.85" y1="298.54" x2="138.40" y2="298.54" stroke="#000" stroke-width="1.0"/>
<line x1="132.85" y1="306.04" x2="138.40" y2="306.04" stroke="#000" stroke-width="1.0"/>
<line x1="141.58" y1="299.19" x2="141.58" y2="304.63" stroke="#000" stroke-width="1.0"/>
<line x1="139.38" y1="299.19" x2="143.78" y2="299.19" stroke="#000" stroke-width="1.0"/>
<line x1="139.38" y1="304.63" x2="143.78" y2="304.63" stroke="#000" stroke-width="1.0"/>
<rect x="151.95" y="315.90" width="7.10" height="43.20" fill="#000"/>
<rect x="158.85" y="323.48" width="4.90" height="35.62" fill="#dedede" stroke="#111" stroke-width="0.9"/>
<line x1="158.45" y1="323.83" x2="164.20" y2="323.83" stroke="#000" stroke-width="1.6"/>
<rect x="164.60" y="308.76" width="5.15" height="50.34" fill="#878787" stroke="#1c1c1c" stroke-width="0.9"/>
<line x1="164.20" y1="308.96" x2="170.15" y2="308.96" stroke="#111" stroke-width="1.2"/>
<line x1="155.38" y1="314.85" x2="155.38" y2="316.35" stroke="#000" stroke-width="1.0"/>
<line x1="153.18" y1="314.85" x2="157.57" y2="314.85" stroke="#000" stroke-width="1.0"/>
<line x1="161.22" y1="322.91" x2="161.22" y2="323.48" stroke="#000" stroke-width="1.0"/>
<line x1="158.65" y1="322.91" x2="163.80" y2="322.91" stroke="#000" stroke-width="1.0"/>
<line x1="158.65" y1="323.48" x2="163.80" y2="323.48" stroke="#000" stroke-width="1.0"/>
<line x1="167.18" y1="305.66" x2="167.18" y2="311.85" stroke="#000" stroke-width="1.0"/>
<line x1="164.98" y1="305.66" x2="169.38" y2="305.66" stroke="#000" stroke-width="1.0"/>
<line x1="164.98" y1="311.85" x2="169.38" y2="311.85" stroke="#000" stroke-width="1.0"/>
<rect x="177.55" y="327.34" width="7.10" height="31.76" fill="#000"/>
<rect x="184.45" y="334.73" width="4.90" height="24.38" fill="#dedede" stroke="#111" stroke-width="0.9"/>
<line x1="184.05" y1="335.08" x2="189.80" y2="335.08" stroke="#000" stroke-width="1.6"/>
<rect x="190.20" y="323.66" width="5.15" height="35.44" fill="#878787" stroke="#1c1c1c" stroke-width="0.9"/>
<line x1="189.80" y1="323.86" x2="195.75" y2="323.86" stroke="#111" stroke-width="1.2"/>
<line x1="180.97" y1="326.85" x2="180.97" y2="327.79" stroke="#000" stroke-width="1.0"/>
<line x1="178.78" y1="326.85" x2="183.17" y2="326.85" stroke="#000" stroke-width="1.0"/>
<line x1="186.82" y1="334.16" x2="186.82" y2="334.73" stroke="#000" stroke-width="1.0"/>
<line x1="184.25" y1="334.16" x2="189.40" y2="334.16" stroke="#000" stroke-width="1.0"/>
<line x1="184.25" y1="334.73" x2="189.40" y2="334.73" stroke="#000" stroke-width="1.0"/>
<line x1="192.78" y1="320.85" x2="192.78" y2="326.48" stroke="#000" stroke-width="1.0"/>
<line x1="190.58" y1="320.85" x2="194.97" y2="320.85" stroke="#000" stroke-width="1.0"/>
<line x1="190.58" y1="326.48" x2="194.97" y2="326.48" stroke="#000" stroke-width="1.0"/>
<rect x="203.15" y="338.49" width="7.10" height="20.61" fill="#000"/>
<rect x="210.05" y="350.10" width="4.90" height="9.00" fill="#dedede" stroke="#111" stroke-width="0.9"/>
<line x1="209.65" y1="350.45" x2="215.40" y2="350.45" stroke="#000" stroke-width="1.6"/>
<rect x="215.80" y="336.13" width="5.15" height="22.97" fill="#878787" stroke="#1c1c1c" stroke-width="0.9"/>
<line x1="215.40" y1="336.33" x2="221.35" y2="336.33" stroke="#111" stroke-width="1.2"/>
<line x1="206.58" y1="338.01" x2="206.58" y2="338.94" stroke="#000" stroke-width="1.0"/>
<line x1="204.38" y1="338.01" x2="208.78" y2="338.01" stroke="#000" stroke-width="1.0"/>
<line x1="212.43" y1="349.63" x2="212.43" y2="350.10" stroke="#000" stroke-width="1.0"/>
<line x1="209.85" y1="349.63" x2="215.00" y2="349.63" stroke="#000" stroke-width="1.0"/>
<line x1="209.85" y1="350.10" x2="215.00" y2="350.10" stroke="#000" stroke-width="1.0"/>
<line x1="218.38" y1="331.16" x2="218.38" y2="341.10" stroke="#000" stroke-width="1.0"/>
<line x1="216.18" y1="331.16" x2="220.58" y2="331.16" stroke="#000" stroke-width="1.0"/>
<line x1="216.18" y1="341.10" x2="220.58" y2="341.10" stroke="#000" stroke-width="1.0"/>
<rect x="228.75" y="349.65" width="7.10" height="9.45" fill="#000"/>
<rect x="235.65" y="357.23" width="4.90" height="1.88" fill="#dedede" stroke="#111" stroke-width="0.9"/>
<line x1="235.25" y1="357.58" x2="241.00" y2="357.58" stroke="#000" stroke-width="1.6"/>
<rect x="241.40" y="350.10" width="5.15" height="9.00" fill="#878787" stroke="#1c1c1c" stroke-width="0.9"/>
<line x1="241.00" y1="350.30" x2="246.95" y2="350.30" stroke="#111" stroke-width="1.2"/>
<line x1="232.18" y1="349.63" x2="232.18" y2="350.10" stroke="#000" stroke-width="1.0"/>
<line x1="229.98" y1="349.63" x2="234.38" y2="349.63" stroke="#000" stroke-width="1.0"/>
<line x1="238.03" y1="356.94" x2="238.03" y2="357.23" stroke="#000" stroke-width="1.0"/>
<line x1="235.45" y1="356.94" x2="240.60" y2="356.94" stroke="#000" stroke-width="1.0"/>
<line x1="235.45" y1="357.23" x2="240.60" y2="357.23" stroke="#000" stroke-width="1.0"/>
<line x1="243.98" y1="345.88" x2="243.98" y2="354.32" stroke="#000" stroke-width="1.0"/>
<line x1="241.78" y1="345.88" x2="246.18" y2="345.88" stroke="#000" stroke-width="1.0"/>
<line x1="241.78" y1="354.32" x2="246.18" y2="354.32" stroke="#000" stroke-width="1.0"/>
<text x="59.12" y="373.85" font-family="Liberation Serif, serif" font-size="9.6" font-weight="bold" text-anchor="middle" textLength="4.60" lengthAdjust="spacingAndGlyphs" stroke="#000" stroke-width="0.14" fill="#000" >0</text>
<text x="84.72" y="373.85" font-family="Liberation Serif, serif" font-size="9.6" font-weight="bold" text-anchor="middle" textLength="9.20" lengthAdjust="spacingAndGlyphs" stroke="#000" stroke-width="0.14" fill="#000" >10</text>
<text x="110.32" y="373.85" font-family="Liberation Serif, serif" font-size="9.6" font-weight="bold" text-anchor="middle" textLength="9.20" lengthAdjust="spacingAndGlyphs" stroke="#000" stroke-width="0.14" fill="#000" >25</text>
<text x="135.93" y="373.85" font-family="Liberation Serif, serif" font-size="9.6" font-weight="bold" text-anchor="middle" textLength="9.20" lengthAdjust="spacingAndGlyphs" stroke="#000" stroke-width="0.14" fill="#000" >50</text>
<text x="161.53" y="373.85" font-family="Liberation Serif, serif" font-size="9.6" font-weight="bold" text-anchor="middle" textLength="9.20" lengthAdjust="spacingAndGlyphs" stroke="#000" stroke-width="0.14" fill="#000" >75</text>
<text x="187.13" y="373.85" font-family="Liberation Serif, serif" font-size="9.6" font-weight="bold" text-anchor="middle" textLength="13.80" lengthAdjust="spacingAndGlyphs" stroke="#000" stroke-width="0.14" fill="#000" >100</text>
<text x="212.73" y="373.85" font-family="Liberation Serif, serif" font-size="9.6" font-weight="bold" text-anchor="middle" textLength="13.80" lengthAdjust="spacingAndGlyphs" stroke="#000" stroke-width="0.14" fill="#000" >250</text>
<text x="238.33" y="373.85" font-family="Liberation Serif, serif" font-size="9.6" font-weight="bold" text-anchor="middle" textLength="13.80" lengthAdjust="spacingAndGlyphs" stroke="#000" stroke-width="0.14" fill="#000" >500</text>
<text x="148.10" y="387.20" font-family="Liberation Serif, serif" font-size="9.5" font-weight="bold" text-anchor="middle" textLength="134.00" lengthAdjust="spacingAndGlyphs" stroke="#000" stroke-width="0.14" fill="#000" >Doxorubicin Concentration (nM)</text>
<rect x="168.8" y="250.35" width="5.9" height="5.9" fill="#000"/>
<text x="175.60" y="256.50" font-family="Liberation Serif, serif" font-size="9.5" font-weight="bold" textLength="59.50" lengthAdjust="spacingAndGlyphs" stroke="#000" stroke-width="0.14" fill="#000" >Control shRNA</text>
<rect x="169.4" y="262.65" width="4.7" height="4.7" fill="#f4f4f4" stroke="#000" stroke-width="1.45"/>
<text x="175.60" y="268.20" font-family="Liberation Serif, serif" font-size="9.5" font-weight="bold" textLength="63.50" lengthAdjust="spacingAndGlyphs" stroke="#000" stroke-width="0.14" fill="#000" >MEK4 shRNA 1</text>
<rect x="169.3" y="274.15" width="4.9" height="4.9" fill="#878787" stroke="#1a1a1a" stroke-width="1.25"/>
<text x="175.60" y="279.80" font-family="Liberation Serif, serif" font-size="9.5" font-weight="bold" textLength="63.50" lengthAdjust="spacingAndGlyphs" stroke="#000" stroke-width="0.14" fill="#000" >MEK4 shRNA 2</text>
<polygon points="90.58,278.10 91.24,279.88 93.14,279.97 91.65,281.15 92.16,282.98 90.58,281.93 88.99,282.98 89.50,281.15 88.01,279.97 89.91,279.88" fill="#000"/>
<polygon points="135.63,291.60 136.29,293.38 138.19,293.47 136.70,294.65 137.21,296.48 135.63,295.43 134.04,296.48 134.55,294.65 133.06,293.47 134.96,293.38" fill="#000"/>
<polygon points="141.23,291.60 141.89,293.38 143.79,293.47 142.30,294.65 142.81,296.48 141.23,295.43 139.64,296.48 140.15,294.65 138.66,293.47 140.56,293.38" fill="#000"/>
<polygon points="211.73,331.30 212.39,333.08 214.29,333.17 212.80,334.35 213.31,336.18 211.73,335.13 210.14,336.18 210.65,334.35 209.16,333.17 211.06,333.08" fill="#000"/>
<polygon points="237.33,345.90 237.99,347.68 239.89,347.77 238.40,348.95 238.91,350.78 237.33,349.73 235.74,350.78 236.25,348.95 234.76,347.77 236.66,347.68" fill="#000"/>
<line x1="307.4" y1="86.30" x2="307.4" y2="201.10" stroke="#707070" stroke-width="1.3"/>
<line x1="306.9" y1="200.6" x2="507.7" y2="200.6" stroke="#707070" stroke-width="1.3"/>
<line x1="304.29999999999995" y1="200.60" x2="307.4" y2="200.60" stroke="#707070" stroke-width="1.15"/>
<text x="299.30" y="203.85" font-family="Liberation Serif, serif" font-size="9.6" font-weight="bold" text-anchor="end" textLength="4.60" lengthAdjust="spacingAndGlyphs" stroke="#000" stroke-width="0.14" fill="#000" >0</text>
<line x1="304.29999999999995" y1="181.60" x2="307.4" y2="181.60" stroke="#707070" stroke-width="1.15"/>
<text x="299.30" y="184.85" font-family="Liberation Serif, serif" font-size="9.6" font-weight="bold" text-anchor="end" textLength="9.20" lengthAdjust="spacingAndGlyphs" stroke="#000" stroke-width="0.14" fill="#000" >20</text>
<line x1="304.29999999999995" y1="162.60" x2="307.4" y2="162.60" stroke="#707070" stroke-width="1.15"/>
<text x="299.30" y="165.85" font-family="Liberation Serif, serif" font-size="9.6" font-weight="bold" text-anchor="end" textLength="9.20" lengthAdjust="spacingAndGlyphs" stroke="#000" stroke-width="0.14" fill="#000" >40</text>
<line x1="304.29999999999995" y1="143.60" x2="307.4" y2="143.60" stroke="#707070" stroke-width="1.15"/>
<text x="299.30" y="146.85" font-family="Liberation Serif, serif" font-size="9.6" font-weight="bold" text-anchor="end" textLength="9.20" lengthAdjust="spacingAndGlyphs" stroke="#000" stroke-width="0.14" fill="#000" >60</text>
<line x1="304.29999999999995" y1="124.60" x2="307.4" y2="124.60" stroke="#707070" stroke-width="1.15"/>
<text x="299.30" y="127.85" font-family="Liberation Serif, serif" font-size="9.6" font-weight="bold" text-anchor="end" textLength="9.20" lengthAdjust="spacingAndGlyphs" stroke="#000" stroke-width="0.14" fill="#000" >80</text>
<line x1="304.29999999999995" y1="105.60" x2="307.4" y2="105.60" stroke="#707070" stroke-width="1.15"/>
<text x="299.30" y="108.85" font-family="Liberation Serif, serif" font-size="9.6" font-weight="bold" text-anchor="end" textLength="13.70" lengthAdjust="spacingAndGlyphs" stroke="#000" stroke-width="0.14" fill="#000" >100</text>
<line x1="304.29999999999995" y1="86.60" x2="307.4" y2="86.60" stroke="#707070" stroke-width="1.15"/>
<text x="299.30" y="89.85" font-family="Liberation Serif, serif" font-size="9.6" font-weight="bold" text-anchor="end" textLength="13.70" lengthAdjust="spacingAndGlyphs" stroke="#000" stroke-width="0.14" fill="#000" >120</text>
<text transform="translate(282.0,144.00) rotate(-90)" text-anchor="middle" font-family="Liberation Serif, serif" font-size="9.4" font-weight="bold" stroke="#000" stroke-width="0.2" textLength="38" lengthAdjust="spacingAndGlyphs">% Viable</text>
<rect x="310.85" y="105.15" width="7.10" height="95.45" fill="#000"/>
<rect x="317.75" y="105.60" width="4.90" height="95.00" fill="#dedede" stroke="#111" stroke-width="0.9"/>
<line x1="317.35" y1="105.95" x2="323.10" y2="105.95" stroke="#000" stroke-width="1.6"/>
<rect x="323.50" y="105.60" width="5.15" height="95.00" fill="#878787" stroke="#1c1c1c" stroke-width="0.9"/>
<line x1="323.10" y1="105.80" x2="329.05" y2="105.80" stroke="#111" stroke-width="1.2"/>
<rect x="335.88" y="126.62" width="7.10" height="73.98" fill="#000"/>
<rect x="342.78" y="178.37" width="4.90" height="22.23" fill="#dedede" stroke="#111" stroke-width="0.9"/>
<line x1="342.38" y1="178.72" x2="348.13" y2="178.72" stroke="#000" stroke-width="1.6"/>
<rect x="348.53" y="154.24" width="5.15" height="46.36" fill="#878787" stroke="#1c1c1c" stroke-width="0.9"/>
<line x1="348.13" y1="154.44" x2="354.08" y2="154.44" stroke="#111" stroke-width="1.2"/>
<line x1="339.31" y1="120.70" x2="339.31" y2="127.07" stroke="#000" stroke-width="1.0"/>
<line x1="337.11" y1="120.70" x2="341.51" y2="120.70" stroke="#000" stroke-width="1.0"/>
<rect x="342.63" y="178.67" width="5.05" height="11.57" fill="#fafafa" stroke="#111" stroke-width="0.9"/>
<line x1="345.16" y1="166.50" x2="345.16" y2="190.25" stroke="#000" stroke-width="1.0"/>
<line x1="342.38" y1="166.50" x2="347.93" y2="166.50" stroke="#000" stroke-width="1.0"/>
<line x1="342.38" y1="190.25" x2="347.93" y2="190.25" stroke="#000" stroke-width="1.0"/>
<line x1="351.11" y1="148.64" x2="351.11" y2="159.84" stroke="#000" stroke-width="1.0"/>
<line x1="348.91" y1="148.64" x2="353.31" y2="148.64" stroke="#000" stroke-width="1.0"/>
<line x1="348.91" y1="159.84" x2="353.31" y2="159.84" stroke="#000" stroke-width="1.0"/>
<rect x="360.91" y="127.95" width="7.10" height="72.65" fill="#000"/>
<rect x="367.81" y="184.26" width="4.90" height="16.34" fill="#dedede" stroke="#111" stroke-width="0.9"/>
<line x1="367.41" y1="184.61" x2="373.16" y2="184.61" stroke="#000" stroke-width="1.6"/>
<rect x="373.56" y="168.30" width="5.15" height="32.30" fill="#878787" stroke="#1c1c1c" stroke-width="0.9"/>
<line x1="373.16" y1="168.50" x2="379.11" y2="168.50" stroke="#111" stroke-width="1.2"/>
<line x1="364.34" y1="128.02" x2="364.34" y2="128.40" stroke="#000" stroke-width="1.0"/>
<line x1="362.14" y1="128.02" x2="366.54" y2="128.02" stroke="#000" stroke-width="1.0"/>
<rect x="367.66" y="184.56" width="5.05" height="7.49" fill="#fafafa" stroke="#111" stroke-width="0.9"/>
<line x1="370.19" y1="176.47" x2="370.19" y2="192.05" stroke="#000" stroke-width="1.0"/>
<line x1="367.41" y1="176.47" x2="372.96" y2="176.47" stroke="#000" stroke-width="1.0"/>
<line x1="367.41" y1="192.05" x2="372.96" y2="192.05" stroke="#000" stroke-width="1.0"/>
<line x1="376.13" y1="157.85" x2="376.13" y2="178.75" stroke="#000" stroke-width="1.0"/>
<line x1="373.94" y1="157.85" x2="378.33" y2="157.85" stroke="#000" stroke-width="1.0"/>
<line x1="373.94" y1="178.75" x2="378.33" y2="178.75" stroke="#000" stroke-width="1.0"/>
<rect x="385.94" y="148.66" width="7.10" height="51.94" fill="#000"/>
<rect x="392.84" y="192.53" width="4.90" height="8.07" fill="#dedede" stroke="#111" stroke-width="0.9"/>
<line x1="392.44" y1="192.88" x2="398.19" y2="192.88" stroke="#000" stroke-width="1.6"/>
<rect x="398.59" y="191.67" width="5.15" height="8.93" fill="#878787" stroke="#1c1c1c" stroke-width="0.9"/>
<line x1="398.19" y1="191.87" x2="404.14" y2="191.87" stroke="#111" stroke-width="1.2"/>
<line x1="389.37" y1="139.70" x2="389.37" y2="149.11" stroke="#000" stroke-width="1.0"/>
<line x1="387.17" y1="139.70" x2="391.56" y2="139.70" stroke="#000" stroke-width="1.0"/>
<rect x="392.69" y="192.83" width="5.05" height="4.45" fill="#fafafa" stroke="#111" stroke-width="0.9"/>
<line x1="395.21" y1="187.78" x2="395.21" y2="197.28" stroke="#000" stroke-width="1.0"/>
<line x1="392.44" y1="187.78" x2="397.99" y2="187.78" stroke="#000" stroke-width="1.0"/>
<line x1="392.44" y1="197.28" x2="397.99" y2="197.28" stroke="#000" stroke-width="1.0"/>
<line x1="401.16" y1="186.92" x2="401.16" y2="196.42" stroke="#000" stroke-width="1.0"/>
<line x1="398.96" y1="186.92" x2="403.36" y2="186.92" stroke="#000" stroke-width="1.0"/>
<line x1="398.96" y1="196.42" x2="403.36" y2="196.42" stroke="#000" stroke-width="1.0"/>
<rect x="410.97" y="159.21" width="7.10" height="41.40" fill="#000"/>
<rect x="417.87" y="197.28" width="4.90" height="3.32" fill="#dedede" stroke="#111" stroke-width="0.9"/>
<line x1="417.47" y1="197.62" x2="423.22" y2="197.62" stroke="#000" stroke-width="1.6"/>
<rect x="423.62" y="191.10" width="5.15" height="9.50" fill="#878787" stroke="#1c1c1c" stroke-width="0.9"/>
<line x1="423.22" y1="191.30" x2="429.17" y2="191.30" stroke="#111" stroke-width="1.2"/>
<line x1="414.40" y1="156.04" x2="414.40" y2="159.66" stroke="#000" stroke-width="1.0"/>
<line x1="412.20" y1="156.04" x2="416.60" y2="156.04" stroke="#000" stroke-width="1.0"/>
<line x1="420.25" y1="194.90" x2="420.25" y2="197.28" stroke="#000" stroke-width="1.0"/>
<line x1="417.67" y1="194.90" x2="422.82" y2="194.90" stroke="#000" stroke-width="1.0"/>
<line x1="417.67" y1="197.28" x2="422.82" y2="197.28" stroke="#000" stroke-width="1.0"/>
<line x1="426.19" y1="183.97" x2="426.19" y2="198.22" stroke="#000" stroke-width="1.0"/>
<line x1="424.00" y1="183.97" x2="428.39" y2="183.97" stroke="#000" stroke-width="1.0"/>
<line x1="424.00" y1="198.22" x2="428.39" y2="198.22" stroke="#000" stroke-width="1.0"/>
<rect x="436.00" y="170.99" width="7.10" height="29.61" fill="#000"/>
<rect x="442.90" y="197.94" width="4.90" height="2.66" fill="#dedede" stroke="#111" stroke-width="0.9"/>
<line x1="442.50" y1="198.29" x2="448.25" y2="198.29" stroke="#000" stroke-width="1.6"/>
<rect x="448.65" y="195.19" width="5.15" height="5.42" fill="#878787" stroke="#1c1c1c" stroke-width="0.9"/>
<line x1="448.25" y1="195.38" x2="454.20" y2="195.38" stroke="#111" stroke-width="1.2"/>
<line x1="439.43" y1="167.35" x2="439.43" y2="171.44" stroke="#000" stroke-width="1.0"/>
<line x1="437.23" y1="167.35" x2="441.63" y2="167.35" stroke="#000" stroke-width="1.0"/>
<line x1="445.28" y1="196.51" x2="445.28" y2="197.94" stroke="#000" stroke-width="1.0"/>
<line x1="442.70" y1="196.51" x2="447.85" y2="196.51" stroke="#000" stroke-width="1.0"/>
<line x1="442.70" y1="197.94" x2="447.85" y2="197.94" stroke="#000" stroke-width="1.0"/>
<line x1="451.23" y1="191.77" x2="451.23" y2="198.60" stroke="#000" stroke-width="1.0"/>
<line x1="449.03" y1="191.77" x2="453.43" y2="191.77" stroke="#000" stroke-width="1.0"/>
<line x1="449.03" y1="198.60" x2="453.43" y2="198.60" stroke="#000" stroke-width="1.0"/>
<rect x="461.03" y="184.00" width="7.10" height="16.60" fill="#000"/>
<rect x="467.93" y="198.70" width="4.90" height="1.90" fill="#dedede" stroke="#111" stroke-width="0.9"/>
<line x1="467.53" y1="199.05" x2="473.28" y2="199.05" stroke="#000" stroke-width="1.6"/>
<rect x="473.68" y="197.75" width="5.15" height="2.85" fill="#878787" stroke="#1c1c1c" stroke-width="0.9"/>
<line x1="473.28" y1="197.95" x2="479.23" y2="197.95" stroke="#111" stroke-width="1.2"/>
<line x1="464.46" y1="184.16" x2="464.46" y2="184.45" stroke="#000" stroke-width="1.0"/>
<line x1="462.26" y1="184.16" x2="466.66" y2="184.16" stroke="#000" stroke-width="1.0"/>
<line x1="470.31" y1="198.13" x2="470.31" y2="198.70" stroke="#000" stroke-width="1.0"/>
<line x1="467.73" y1="198.13" x2="472.88" y2="198.13" stroke="#000" stroke-width="1.0"/>
<line x1="467.73" y1="198.70" x2="472.88" y2="198.70" stroke="#000" stroke-width="1.0"/>
<line x1="476.25" y1="195.09" x2="476.25" y2="200.30" stroke="#000" stroke-width="1.0"/>
<line x1="474.06" y1="195.09" x2="478.45" y2="195.09" stroke="#000" stroke-width="1.0"/>
<line x1="474.06" y1="200.30" x2="478.45" y2="200.30" stroke="#000" stroke-width="1.0"/>
<rect x="486.06" y="191.03" width="7.10" height="9.57" fill="#000"/>
<rect x="492.96" y="199.17" width="4.90" height="1.42" fill="#dedede" stroke="#111" stroke-width="0.9"/>
<line x1="492.56" y1="199.52" x2="498.31" y2="199.52" stroke="#000" stroke-width="1.6"/>
<rect x="498.71" y="199.17" width="5.15" height="1.42" fill="#878787" stroke="#1c1c1c" stroke-width="0.9"/>
<line x1="498.31" y1="199.37" x2="504.26" y2="199.37" stroke="#111" stroke-width="1.2"/>
<line x1="489.49" y1="191.19" x2="489.49" y2="191.48" stroke="#000" stroke-width="1.0"/>
<line x1="487.29" y1="191.19" x2="491.69" y2="191.19" stroke="#000" stroke-width="1.0"/>
<line x1="495.33" y1="198.70" x2="495.33" y2="199.17" stroke="#000" stroke-width="1.0"/>
<line x1="492.76" y1="198.70" x2="497.91" y2="198.70" stroke="#000" stroke-width="1.0"/>
<line x1="492.76" y1="199.17" x2="497.91" y2="199.17" stroke="#000" stroke-width="1.0"/>
<line x1="501.28" y1="197.75" x2="501.28" y2="200.30" stroke="#000" stroke-width="1.0"/>
<line x1="499.08" y1="197.75" x2="503.48" y2="197.75" stroke="#000" stroke-width="1.0"/>
<line x1="499.08" y1="200.30" x2="503.48" y2="200.30" stroke="#000" stroke-width="1.0"/>
<text x="320.43" y="215.30" font-family="Liberation Serif, serif" font-size="9.6" font-weight="bold" text-anchor="middle" textLength="4.60" lengthAdjust="spacingAndGlyphs" stroke="#000" stroke-width="0.14" fill="#000" >0</text>
<text x="345.46" y="215.30" font-family="Liberation Serif, serif" font-size="9.6" font-weight="bold" text-anchor="middle" textLength="11.50" lengthAdjust="spacingAndGlyphs" stroke="#000" stroke-width="0.14" fill="#000" >0.4</text>
<text x="370.49" y="215.30" font-family="Liberation Serif, serif" font-size="9.6" font-weight="bold" text-anchor="middle" textLength="11.50" lengthAdjust="spacingAndGlyphs" stroke="#000" stroke-width="0.14" fill="#000" >0.7</text>
<text x="395.51" y="215.30" font-family="Liberation Serif, serif" font-size="9.6" font-weight="bold" text-anchor="middle" textLength="11.50" lengthAdjust="spacingAndGlyphs" stroke="#000" stroke-width="0.14" fill="#000" >0.8</text>
<text x="420.55" y="215.30" font-family="Liberation Serif, serif" font-size="9.6" font-weight="bold" text-anchor="middle" textLength="11.50" lengthAdjust="spacingAndGlyphs" stroke="#000" stroke-width="0.14" fill="#000" >0.9</text>
<text x="445.58" y="215.30" font-family="Liberation Serif, serif" font-size="9.6" font-weight="bold" text-anchor="middle" textLength="4.60" lengthAdjust="spacingAndGlyphs" stroke="#000" stroke-width="0.14" fill="#000" >1</text>
<text x="470.61" y="215.30" font-family="Liberation Serif, serif" font-size="9.6" font-weight="bold" text-anchor="middle" textLength="11.50" lengthAdjust="spacingAndGlyphs" stroke="#000" stroke-width="0.14" fill="#000" >1.1</text>
<text x="495.63" y="215.30" font-family="Liberation Serif, serif" font-size="9.6" font-weight="bold" text-anchor="middle" textLength="11.50" lengthAdjust="spacingAndGlyphs" stroke="#000" stroke-width="0.14" fill="#000" >1.2</text>
<text x="406.40" y="229.10" font-family="Liberation Serif, serif" font-size="9.5" font-weight="bold" text-anchor="middle" textLength="172.00" lengthAdjust="spacingAndGlyphs" stroke="#000" stroke-width="0.14" fill="#000" >Methyl-Prednisolone Concentration (mM)</text>
<rect x="438.3" y="92.90" width="5.8" height="5.8" fill="#000"/>
<text x="445.60" y="99.00" font-family="Liberation Serif, serif" font-size="9.5" font-weight="bold" textLength="59.50" lengthAdjust="spacingAndGlyphs" stroke="#000" stroke-width="0.14" fill="#000" >Control shRNA</text>
<rect x="438.90000000000003" y="106.30" width="4.6" height="4.6" fill="#f4f4f4" stroke="#000" stroke-width="1.45"/>
<text x="445.60" y="111.80" font-family="Liberation Serif, serif" font-size="9.5" font-weight="bold" textLength="63.50" lengthAdjust="spacingAndGlyphs" stroke="#000" stroke-width="0.14" fill="#000" >MEK4 shRNA 1</text>
<rect x="438.8" y="118.90" width="4.8" height="4.8" fill="#878787" stroke="#1a1a1a" stroke-width="1.25"/>
<text x="445.60" y="124.50" font-family="Liberation Serif, serif" font-size="9.5" font-weight="bold" textLength="63.50" lengthAdjust="spacingAndGlyphs" stroke="#000" stroke-width="0.14" fill="#000" >MEK4 shRNA 2</text>
<polygon points="345.16,139.30 345.82,141.08 347.72,141.17 346.23,142.35 346.74,144.18 345.16,143.13 343.57,144.18 344.08,142.35 342.59,141.17 344.49,141.08" fill="#000"/>
<polygon points="350.76,139.30 351.42,141.08 353.32,141.17 351.83,142.35 352.34,144.18 350.76,143.13 349.17,144.18 349.68,142.35 348.19,141.17 350.09,141.08" fill="#000"/>
<polygon points="370.19,149.60 370.85,151.38 372.75,151.47 371.26,152.65 371.77,154.48 370.19,153.43 368.60,154.48 369.11,152.65 367.62,151.47 369.52,151.38" fill="#000"/>
<polygon points="375.79,149.60 376.45,151.38 378.35,151.47 376.86,152.65 377.37,154.48 375.79,153.43 374.20,154.48 374.71,152.65 373.22,151.47 375.12,151.38" fill="#000"/>
<polygon points="395.21,181.20 395.88,182.98 397.78,183.07 396.29,184.25 396.80,186.08 395.21,185.03 393.63,186.08 394.14,184.25 392.65,183.07 394.55,182.98" fill="#000"/>
<polygon points="400.81,181.20 401.48,182.98 403.38,183.07 401.89,184.25 402.40,186.08 400.81,185.03 399.23,186.08 399.74,184.25 398.25,183.07 400.15,182.98" fill="#000"/>
<polygon points="420.25,176.70 420.91,178.48 422.81,178.57 421.32,179.75 421.83,181.58 420.25,180.53 418.66,181.58 419.17,179.75 417.68,178.57 419.58,178.48" fill="#000"/>
<polygon points="425.85,176.70 426.51,178.48 428.41,178.57 426.92,179.75 427.43,181.58 425.85,180.53 424.26,181.58 424.77,179.75 423.28,178.57 425.18,178.48" fill="#000"/>
<polygon points="445.28,186.90 445.94,188.68 447.84,188.77 446.35,189.95 446.86,191.78 445.28,190.73 443.69,191.78 444.20,189.95 442.71,188.77 444.61,188.68" fill="#000"/>
<polygon points="450.88,186.90 451.54,188.68 453.44,188.77 451.95,189.95 452.46,191.78 450.88,190.73 449.29,191.78 449.80,189.95 448.31,188.77 450.21,188.68" fill="#000"/>
<polygon points="470.31,186.90 470.97,188.68 472.87,188.77 471.38,189.95 471.89,191.78 470.31,190.73 468.72,191.78 469.23,189.95 467.74,188.77 469.64,188.68" fill="#000"/>
<polygon points="475.91,186.90 476.57,188.68 478.47,188.77 476.98,189.95 477.49,191.78 475.91,190.73 474.32,191.78 474.83,189.95 473.34,188.77 475.24,188.68" fill="#000"/>
<polygon points="495.33,190.50 496.00,192.28 497.90,192.37 496.41,193.55 496.92,195.38 495.33,194.33 493.75,195.38 494.26,193.55 492.77,192.37 494.67,192.28" fill="#000"/>
<polygon points="500.94,190.50 501.60,192.28 503.50,192.37 502.01,193.55 502.52,195.38 500.94,194.33 499.35,195.38 499.86,193.55 498.37,192.37 500.27,192.28" fill="#000"/>
<line x1="308.8" y1="246.32" x2="308.8" y2="360.70" stroke="#707070" stroke-width="1.3"/>
<line x1="308.3" y1="360.2" x2="517.8" y2="360.2" stroke="#707070" stroke-width="1.3"/>
<line x1="305.7" y1="360.20" x2="308.8" y2="360.20" stroke="#707070" stroke-width="1.15"/>
<text x="300.30" y="363.45" font-family="Liberation Serif, serif" font-size="9.6" font-weight="bold" text-anchor="end" textLength="4.60" lengthAdjust="spacingAndGlyphs" stroke="#000" stroke-width="0.14" fill="#000" >0</text>
<line x1="305.7" y1="341.27" x2="308.8" y2="341.27" stroke="#707070" stroke-width="1.15"/>
<text x="300.30" y="344.52" font-family="Liberation Serif, serif" font-size="9.6" font-weight="bold" text-anchor="end" textLength="9.20" lengthAdjust="spacingAndGlyphs" stroke="#000" stroke-width="0.14" fill="#000" >20</text>
<line x1="305.7" y1="322.34" x2="308.8" y2="322.34" stroke="#707070" stroke-width="1.15"/>
<text x="300.30" y="325.59" font-family="Liberation Serif, serif" font-size="9.6" font-weight="bold" text-anchor="end" textLength="9.20" lengthAdjust="spacingAndGlyphs" stroke="#000" stroke-width="0.14" fill="#000" >40</text>
<line x1="305.7" y1="303.41" x2="308.8" y2="303.41" stroke="#707070" stroke-width="1.15"/>
<text x="300.30" y="306.66" font-family="Liberation Serif, serif" font-size="9.6" font-weight="bold" text-anchor="end" textLength="9.20" lengthAdjust="spacingAndGlyphs" stroke="#000" stroke-width="0.14" fill="#000" >60</text>
<line x1="305.7" y1="284.48" x2="308.8" y2="284.48" stroke="#707070" stroke-width="1.15"/>
<text x="300.30" y="287.73" font-family="Liberation Serif, serif" font-size="9.6" font-weight="bold" text-anchor="end" textLength="9.20" lengthAdjust="spacingAndGlyphs" stroke="#000" stroke-width="0.14" fill="#000" >80</text>
<line x1="305.7" y1="265.55" x2="308.8" y2="265.55" stroke="#707070" stroke-width="1.15"/>
<text x="300.30" y="268.80" font-family="Liberation Serif, serif" font-size="9.6" font-weight="bold" text-anchor="end" textLength="13.70" lengthAdjust="spacingAndGlyphs" stroke="#000" stroke-width="0.14" fill="#000" >100</text>
<line x1="305.7" y1="246.62" x2="308.8" y2="246.62" stroke="#707070" stroke-width="1.15"/>
<text x="300.30" y="249.87" font-family="Liberation Serif, serif" font-size="9.6" font-weight="bold" text-anchor="end" textLength="13.70" lengthAdjust="spacingAndGlyphs" stroke="#000" stroke-width="0.14" fill="#000" >120</text>
<text transform="translate(282.0,303.81) rotate(-90)" text-anchor="middle" font-family="Liberation Serif, serif" font-size="9.4" font-weight="bold" stroke="#000" stroke-width="0.2" textLength="38" lengthAdjust="spacingAndGlyphs">% Viable</text>
<rect x="311.65" y="265.10" width="7.55" height="95.10" fill="#000"/>
<rect x="319.00" y="265.55" width="5.35" height="94.65" fill="#dedede" stroke="#111" stroke-width="0.9"/>
<line x1="318.60" y1="265.90" x2="324.80" y2="265.90" stroke="#000" stroke-width="1.6"/>
<rect x="325.20" y="265.55" width="5.60" height="94.65" fill="#878787" stroke="#1c1c1c" stroke-width="0.9"/>
<line x1="324.80" y1="265.75" x2="331.20" y2="265.75" stroke="#111" stroke-width="1.2"/>
<rect x="337.85" y="261.41" width="7.55" height="98.79" fill="#000"/>
<rect x="345.20" y="268.48" width="5.35" height="91.72" fill="#dedede" stroke="#111" stroke-width="0.9"/>
<line x1="344.80" y1="268.83" x2="351.00" y2="268.83" stroke="#000" stroke-width="1.6"/>
<rect x="351.40" y="276.91" width="5.60" height="83.29" fill="#878787" stroke="#1c1c1c" stroke-width="0.9"/>
<line x1="351.00" y1="277.11" x2="357.40" y2="277.11" stroke="#111" stroke-width="1.2"/>
<line x1="341.50" y1="247.28" x2="341.50" y2="261.86" stroke="#000" stroke-width="1.0"/>
<line x1="339.30" y1="247.28" x2="343.70" y2="247.28" stroke="#000" stroke-width="1.0"/>
<rect x="345.05" y="268.78" width="5.50" height="7.27" fill="#fafafa" stroke="#111" stroke-width="0.9"/>
<line x1="347.80" y1="260.91" x2="347.80" y2="276.06" stroke="#000" stroke-width="1.0"/>
<line x1="344.80" y1="260.91" x2="350.80" y2="260.91" stroke="#000" stroke-width="1.0"/>
<line x1="344.80" y1="276.06" x2="350.80" y2="276.06" stroke="#000" stroke-width="1.0"/>
<line x1="354.20" y1="269.62" x2="354.20" y2="284.20" stroke="#000" stroke-width="1.0"/>
<line x1="352.00" y1="269.62" x2="356.40" y2="269.62" stroke="#000" stroke-width="1.0"/>
<line x1="352.00" y1="284.20" x2="356.40" y2="284.20" stroke="#000" stroke-width="1.0"/>
<rect x="364.05" y="276.46" width="7.55" height="83.74" fill="#000"/>
<rect x="371.40" y="271.51" width="5.35" height="88.69" fill="#dedede" stroke="#111" stroke-width="0.9"/>
<line x1="371.00" y1="271.86" x2="377.20" y2="271.86" stroke="#000" stroke-width="1.6"/>
<rect x="377.60" y="279.94" width="5.60" height="80.26" fill="#878787" stroke="#1c1c1c" stroke-width="0.9"/>
<line x1="377.20" y1="280.14" x2="383.60" y2="280.14" stroke="#111" stroke-width="1.2"/>
<line x1="367.70" y1="275.96" x2="367.70" y2="276.91" stroke="#000" stroke-width="1.0"/>
<line x1="365.50" y1="275.96" x2="369.90" y2="275.96" stroke="#000" stroke-width="1.0"/>
<rect x="371.25" y="271.81" width="5.50" height="17.21" fill="#fafafa" stroke="#111" stroke-width="0.9"/>
<line x1="374.00" y1="254.00" x2="374.00" y2="289.02" stroke="#000" stroke-width="1.0"/>
<line x1="371.00" y1="254.00" x2="377.00" y2="254.00" stroke="#000" stroke-width="1.0"/>
<line x1="371.00" y1="289.02" x2="377.00" y2="289.02" stroke="#000" stroke-width="1.0"/>
<line x1="380.40" y1="264.04" x2="380.40" y2="295.84" stroke="#000" stroke-width="1.0"/>
<line x1="378.20" y1="264.04" x2="382.60" y2="264.04" stroke="#000" stroke-width="1.0"/>
<line x1="378.20" y1="295.84" x2="382.60" y2="295.84" stroke="#000" stroke-width="1.0"/>
<rect x="390.25" y="307.12" width="7.55" height="53.08" fill="#000"/>
<rect x="397.60" y="294.89" width="5.35" height="65.31" fill="#dedede" stroke="#111" stroke-width="0.9"/>
<line x1="397.20" y1="295.24" x2="403.40" y2="295.24" stroke="#000" stroke-width="1.6"/>
<rect x="403.80" y="301.52" width="5.60" height="58.68" fill="#878787" stroke="#1c1c1c" stroke-width="0.9"/>
<line x1="403.40" y1="301.72" x2="409.80" y2="301.72" stroke="#111" stroke-width="1.2"/>
<line x1="393.90" y1="304.74" x2="393.90" y2="307.57" stroke="#000" stroke-width="1.0"/>
<line x1="391.70" y1="304.74" x2="396.10" y2="304.74" stroke="#000" stroke-width="1.0"/>
<rect x="397.45" y="295.19" width="5.50" height="6.04" fill="#fafafa" stroke="#111" stroke-width="0.9"/>
<line x1="400.20" y1="288.55" x2="400.20" y2="301.23" stroke="#000" stroke-width="1.0"/>
<line x1="397.20" y1="288.55" x2="403.20" y2="288.55" stroke="#000" stroke-width="1.0"/>
<line x1="397.20" y1="301.23" x2="403.20" y2="301.23" stroke="#000" stroke-width="1.0"/>
<line x1="406.60" y1="288.83" x2="406.60" y2="314.20" stroke="#000" stroke-width="1.0"/>
<line x1="404.40" y1="288.83" x2="408.80" y2="288.83" stroke="#000" stroke-width="1.0"/>
<line x1="404.40" y1="314.20" x2="408.80" y2="314.20" stroke="#000" stroke-width="1.0"/>
<rect x="416.45" y="321.70" width="7.55" height="38.50" fill="#000"/>
<rect x="423.80" y="323.85" width="5.35" height="36.35" fill="#dedede" stroke="#111" stroke-width="0.9"/>
<line x1="423.40" y1="324.20" x2="429.60" y2="324.20" stroke="#000" stroke-width="1.6"/>
<rect x="430.00" y="322.15" width="5.60" height="38.05" fill="#878787" stroke="#1c1c1c" stroke-width="0.9"/>
<line x1="429.60" y1="322.35" x2="436.00" y2="322.35" stroke="#111" stroke-width="1.2"/>
<line x1="420.10" y1="318.55" x2="420.10" y2="322.15" stroke="#000" stroke-width="1.0"/>
<line x1="417.90" y1="318.55" x2="422.30" y2="318.55" stroke="#000" stroke-width="1.0"/>
<rect x="423.65" y="324.15" width="5.50" height="5.76" fill="#fafafa" stroke="#111" stroke-width="0.9"/>
<line x1="426.40" y1="317.80" x2="426.40" y2="329.91" stroke="#000" stroke-width="1.0"/>
<line x1="423.40" y1="317.80" x2="429.40" y2="317.80" stroke="#000" stroke-width="1.0"/>
<line x1="423.40" y1="329.91" x2="429.40" y2="329.91" stroke="#000" stroke-width="1.0"/>
<line x1="432.80" y1="313.73" x2="432.80" y2="330.57" stroke="#000" stroke-width="1.0"/>
<line x1="430.60" y1="313.73" x2="435.00" y2="313.73" stroke="#000" stroke-width="1.0"/>
<line x1="430.60" y1="330.57" x2="435.00" y2="330.57" stroke="#000" stroke-width="1.0"/>
<rect x="442.65" y="333.82" width="7.55" height="26.38" fill="#000"/>
<rect x="450.00" y="328.21" width="5.35" height="31.99" fill="#dedede" stroke="#111" stroke-width="0.9"/>
<line x1="449.60" y1="328.56" x2="455.80" y2="328.56" stroke="#000" stroke-width="1.6"/>
<rect x="456.20" y="330.67" width="5.60" height="29.53" fill="#878787" stroke="#1c1c1c" stroke-width="0.9"/>
<line x1="455.80" y1="330.87" x2="462.20" y2="330.87" stroke="#111" stroke-width="1.2"/>
<line x1="446.30" y1="333.79" x2="446.30" y2="334.27" stroke="#000" stroke-width="1.0"/>
<line x1="444.10" y1="333.79" x2="448.50" y2="333.79" stroke="#000" stroke-width="1.0"/>
<rect x="449.85" y="328.51" width="5.50" height="15.41" fill="#fafafa" stroke="#111" stroke-width="0.9"/>
<line x1="452.60" y1="312.50" x2="452.60" y2="343.92" stroke="#000" stroke-width="1.0"/>
<line x1="449.60" y1="312.50" x2="455.60" y2="312.50" stroke="#000" stroke-width="1.0"/>
<line x1="449.60" y1="343.92" x2="455.60" y2="343.92" stroke="#000" stroke-width="1.0"/>
<line x1="459.00" y1="313.82" x2="459.00" y2="347.52" stroke="#000" stroke-width="1.0"/>
<line x1="456.80" y1="313.82" x2="461.20" y2="313.82" stroke="#000" stroke-width="1.0"/>
<line x1="456.80" y1="347.52" x2="461.20" y2="347.52" stroke="#000" stroke-width="1.0"/>
<rect x="468.85" y="343.00" width="7.55" height="17.20" fill="#000"/>
<rect x="476.20" y="340.80" width="5.35" height="19.40" fill="#dedede" stroke="#111" stroke-width="0.9"/>
<line x1="475.80" y1="341.15" x2="482.00" y2="341.15" stroke="#000" stroke-width="1.6"/>
<rect x="482.40" y="346.29" width="5.60" height="13.91" fill="#878787" stroke="#1c1c1c" stroke-width="0.9"/>
<line x1="482.00" y1="346.49" x2="488.40" y2="346.49" stroke="#111" stroke-width="1.2"/>
<line x1="472.50" y1="342.97" x2="472.50" y2="343.45" stroke="#000" stroke-width="1.0"/>
<line x1="470.30" y1="342.97" x2="474.70" y2="342.97" stroke="#000" stroke-width="1.0"/>
<rect x="476.05" y="341.10" width="5.50" height="12.76" fill="#fafafa" stroke="#111" stroke-width="0.9"/>
<line x1="478.80" y1="327.74" x2="478.80" y2="353.86" stroke="#000" stroke-width="1.0"/>
<line x1="475.80" y1="327.74" x2="481.80" y2="327.74" stroke="#000" stroke-width="1.0"/>
<line x1="475.80" y1="353.86" x2="481.80" y2="353.86" stroke="#000" stroke-width="1.0"/>
<line x1="485.20" y1="339.09" x2="485.20" y2="353.48" stroke="#000" stroke-width="1.0"/>
<line x1="483.00" y1="339.09" x2="487.40" y2="339.09" stroke="#000" stroke-width="1.0"/>
<line x1="483.00" y1="353.48" x2="487.40" y2="353.48" stroke="#000" stroke-width="1.0"/>
<rect x="495.05" y="353.79" width="7.55" height="6.41" fill="#000"/>
<rect x="502.40" y="350.45" width="5.35" height="9.75" fill="#dedede" stroke="#111" stroke-width="0.9"/>
<line x1="502.00" y1="350.80" x2="508.20" y2="350.80" stroke="#000" stroke-width="1.6"/>
<rect x="508.60" y="353.57" width="5.60" height="6.63" fill="#878787" stroke="#1c1c1c" stroke-width="0.9"/>
<line x1="508.20" y1="353.77" x2="514.60" y2="353.77" stroke="#111" stroke-width="1.2"/>
<line x1="498.70" y1="352.34" x2="498.70" y2="354.24" stroke="#000" stroke-width="1.0"/>
<line x1="496.50" y1="352.34" x2="500.90" y2="352.34" stroke="#000" stroke-width="1.0"/>
<line x1="505.00" y1="349.50" x2="505.00" y2="350.45" stroke="#000" stroke-width="1.0"/>
<line x1="502.20" y1="349.50" x2="507.80" y2="349.50" stroke="#000" stroke-width="1.0"/>
<line x1="502.20" y1="350.45" x2="507.80" y2="350.45" stroke="#000" stroke-width="1.0"/>
<line x1="511.40" y1="349.50" x2="511.40" y2="357.64" stroke="#000" stroke-width="1.0"/>
<line x1="509.20" y1="349.50" x2="513.60" y2="349.50" stroke="#000" stroke-width="1.0"/>
<line x1="509.20" y1="357.64" x2="513.60" y2="357.64" stroke="#000" stroke-width="1.0"/>
<text x="321.90" y="374.70" font-family="Liberation Serif, serif" font-size="9.6" font-weight="bold" text-anchor="middle" textLength="4.60" lengthAdjust="spacingAndGlyphs" stroke="#000" stroke-width="0.14" fill="#000" >0</text>
<text x="348.10" y="374.70" font-family="Liberation Serif, serif" font-size="9.6" font-weight="bold" text-anchor="middle" textLength="9.20" lengthAdjust="spacingAndGlyphs" stroke="#000" stroke-width="0.14" fill="#000" >10</text>
<text x="374.30" y="374.70" font-family="Liberation Serif, serif" font-size="9.6" font-weight="bold" text-anchor="middle" textLength="9.20" lengthAdjust="spacingAndGlyphs" stroke="#000" stroke-width="0.14" fill="#000" >25</text>
<text x="400.50" y="374.70" font-family="Liberation Serif, serif" font-size="9.6" font-weight="bold" text-anchor="middle" textLength="9.20" lengthAdjust="spacingAndGlyphs" stroke="#000" stroke-width="0.14" fill="#000" >50</text>
<text x="426.70" y="374.70" font-family="Liberation Serif, serif" font-size="9.6" font-weight="bold" text-anchor="middle" textLength="9.20" lengthAdjust="spacingAndGlyphs" stroke="#000" stroke-width="0.14" fill="#000" >75</text>
<text x="452.90" y="374.70" font-family="Liberation Serif, serif" font-size="9.6" font-weight="bold" text-anchor="middle" textLength="13.80" lengthAdjust="spacingAndGlyphs" stroke="#000" stroke-width="0.14" fill="#000" >100</text>
<text x="479.10" y="374.70" font-family="Liberation Serif, serif" font-size="9.6" font-weight="bold" text-anchor="middle" textLength="13.80" lengthAdjust="spacingAndGlyphs" stroke="#000" stroke-width="0.14" fill="#000" >250</text>
<text x="505.30" y="374.70" font-family="Liberation Serif, serif" font-size="9.6" font-weight="bold" text-anchor="middle" textLength="13.80" lengthAdjust="spacingAndGlyphs" stroke="#000" stroke-width="0.14" fill="#000" >500</text>
<text x="413.00" y="388.10" font-family="Liberation Serif, serif" font-size="9.5" font-weight="bold" text-anchor="middle" textLength="134.00" lengthAdjust="spacingAndGlyphs" stroke="#000" stroke-width="0.14" fill="#000" >Doxorubicin Concentration (nM)</text>
<rect x="440.7" y="251.80" width="6.0" height="6.0" fill="#000"/>
<text x="448.20" y="258.00" font-family="Liberation Serif, serif" font-size="9.5" font-weight="bold" textLength="59.50" lengthAdjust="spacingAndGlyphs" stroke="#000" stroke-width="0.14" fill="#000" >Control shRNA</text>
<rect x="441.3" y="264.30" width="4.8" height="4.8" fill="#f4f4f4" stroke="#000" stroke-width="1.45"/>
<text x="448.20" y="269.90" font-family="Liberation Serif, serif" font-size="9.5" font-weight="bold" textLength="63.50" lengthAdjust="spacingAndGlyphs" stroke="#000" stroke-width="0.14" fill="#000" >MEK4 shRNA 1</text>
<rect x="441.2" y="276.50" width="5.0" height="5.0" fill="#878787" stroke="#1a1a1a" stroke-width="1.25"/>
<text x="448.20" y="282.20" font-family="Liberation Serif, serif" font-size="9.5" font-weight="bold" textLength="63.50" lengthAdjust="spacingAndGlyphs" stroke="#000" stroke-width="0.14" fill="#000" >MEK4 shRNA 2</text>
</g>
</svg>
</body></html>
